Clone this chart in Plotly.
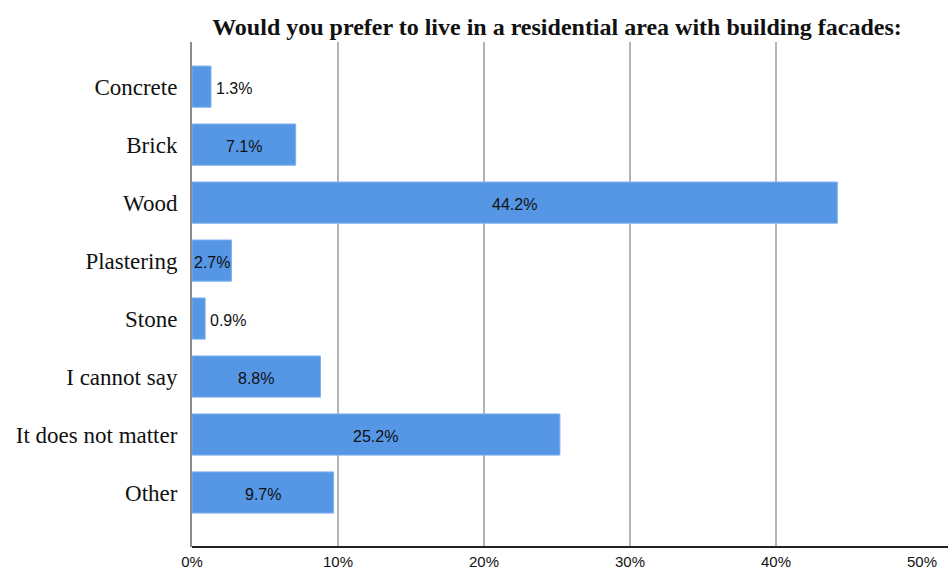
import plotly.graph_objects as go

# Survey answers and their shares (%)
categories = ["Concrete", "Brick", "Wood", "Plastering", "Stone",
              "I cannot say", "It does not matter", "Other"]
shares = [1.3, 7.1, 44.2, 2.7, 0.9, 8.8, 25.2, 9.7]
x_ticks = [0, 10, 20, 30, 40, 50]
x_tick_labels = ["0%", "10%", "20%", "30%", "40%", "50%"]
title_text = "Would you prefer to live in a residential area with building facades:"

BAR_COLOR = "#5596e5"
LABEL_FONT = dict(family="Liberation Sans, Arial, sans-serif", size=16, color="#111111")

W, H = 948, 570
L, R, T, B = 192, 26, 42, 23

fig = go.Figure()
fig.add_trace(go.Bar(
    x=shares,
    y=categories,
    orientation="h",
    width=0.71,
    marker=dict(color=BAR_COLOR, line=dict(color="#7fb0ee", width=1)),
    hoverinfo="skip",
))

# Value labels: centred inside wide bars, just right of very thin ones
annotations = []
for cat, val in zip(categories, shares):
    txt = f"{val:.1f}%"
    if val < 2:
        annotations.append(dict(x=val, y=cat, text=txt, xref="x", yref="y",
                                xanchor="left", xshift=3, yshift=-2,
                                showarrow=False, font=LABEL_FONT))
    else:
        annotations.append(dict(x=val / 2, y=cat, text=txt, xref="x", yref="y",
                                xanchor="center", yshift=-2,
                                showarrow=False, font=LABEL_FONT))

# Bottom axis line runs past the last gridline to the right edge
plot_w = W - L - R
fig.add_shape(type="line", xref="paper", yref="paper",
              x0=0, x1=(W - L) / plot_w, y0=0, y1=0,
              line=dict(color="#222222", width=2))

fig.update_layout(
    width=W, height=H,
    margin=dict(l=L, r=R, t=T, b=B),
    paper_bgcolor="white",
    plot_bgcolor="white",
    showlegend=False,
    title=dict(
        text="<b>" + title_text + "</b>",
        font=dict(family="Liberation Serif, Times New Roman, serif", size=24, color="#111111"),
        x=(L + W - R) / 2 / W, xanchor="center",
        y=1 - 27 / H, yanchor="middle",
    ),
    annotations=annotations,
)

fig.update_xaxes(
    range=[0, 50],
    tickvals=x_ticks,
    ticktext=x_tick_labels,
    showgrid=True,
    gridcolor="#b4b4b4",
    gridwidth=2,
    zeroline=False,
    showline=False,
    ticks="outside",
    ticklen=1,
    tickcolor="rgba(0,0,0,0)",
    tickfont=dict(family="Liberation Sans, Arial, sans-serif", size=15, color="#111111"),
    automargin=False,
    fixedrange=True,
)

fig.update_yaxes(
    categoryorder="array",
    categoryarray=categories,
    range=[7.94, -0.77],
    showgrid=False,
    showline=True,
    linecolor="#8c8c8c",
    linewidth=2,
    ticks="outside",
    ticklen=8,
    tickcolor="rgba(0,0,0,0)",
    tickfont=dict(family="Liberation Serif, Times New Roman, serif", size=23, color="#111111"),
    automargin=False,
    fixedrange=True,
)

fig.write_html("out.html")
